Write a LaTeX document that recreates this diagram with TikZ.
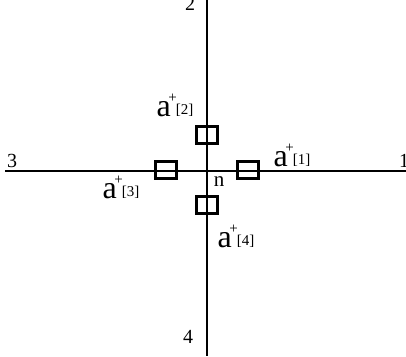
\documentclass[tikz,border=0pt]{standalone}
\usepackage{fontspec}
\setmainfont{Liberation Serif}
\newcommand{\fs}[1]{\fontsize{#1}{#1}\selectfont}
% a with raised plus and bracketed index
\newcommand{\plab}[1]{{\fs{32}a}\kern-2.5pt\raisebox{14pt}{\fs{15}+}\kern-1pt\raisebox{1.5pt}{\fs{15}[#1]}}

\begin{document}
\begin{tikzpicture}[x=1pt,y=-1pt,line width=1.4pt,
  cell/.style={draw,line width=2.4pt,minimum width=21pt,minimum height=17pt,inner sep=0pt},
  axlab/.style={inner sep=0pt,font=\fs{20}},
  plab/.style={inner sep=0pt,anchor=base west}]
\useasboundingbox (0,0) rectangle (406,356);
% ---------- axes ----------
\coordinate (top) at (207,0);
\coordinate (bot) at (207,356);
\coordinate (west) at (5,171);
\coordinate (east) at (406,171);
\draw (top) -- (bot);
\draw (west) -- (east);
% ---------- axis numbers ----------
\node[axlab] (n1) at (404,161) {1};
\node[axlab] (n2) at (190,4) {2};
\node[axlab] (n3) at (12,161) {3};
\node[axlab] (n4) at (188,337) {4};
% ---------- cells round the centre ----------
\node[cell] (c1) at (248,170) {};
\node[cell] (c2) at (207,135) {};
\node[cell] (c3) at (166,170) {};
\node[cell] (c4) at (207,205) {};
\node[inner sep=0pt,font=\fs{21}] (n) at (219,182) {n};
% ---------- labels ----------
\node[plab] (a1) at (273,166) {\plab{1}};
\node[plab] (a2) at (156,116) {\plab{2}};
\node[plab] (a3) at (102,198) {\plab{3}};
\node[plab] (a4) at (217,247) {\plab{4}};
\end{tikzpicture}
\end{document}
